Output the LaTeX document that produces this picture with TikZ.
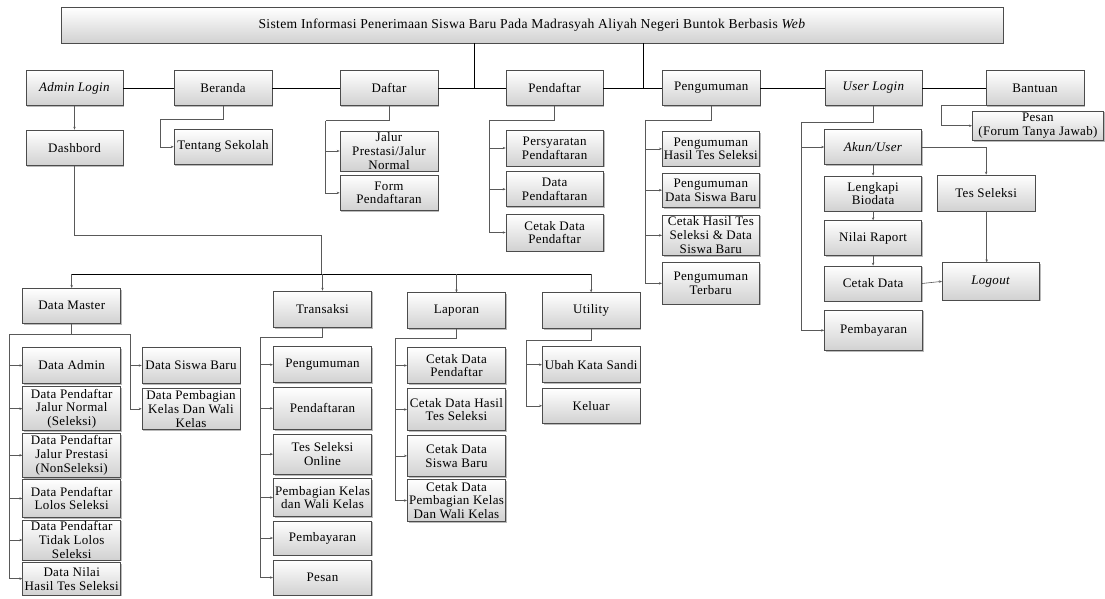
\documentclass[tikz,border=0pt]{standalone}
\usepackage{fontspec}
\setmainfont[LetterSpace=2.5]{Liberation Serif}
\usetikzlibrary{shadows,arrows.meta}
\tikzset{
  box/.style={draw=black!70, line width=0.6pt, top color=white, bottom color=black!18,
    drop shadow={shadow xshift=1.2pt, shadow yshift=-1.2pt, fill=black!45, opacity=0.6},
    align=center, inner sep=0.5pt, font=\fontsize{13}{13.8}\selectfont},
  titlebox/.style={box, font=\fontsize{13.6}{14}\selectfont},
  mainline/.style={draw=black, line width=0.8pt},
  conn/.style={draw=black!65, line width=0.6pt},
  arr/.style={conn, -{Stealth[length=3pt,width=2.4pt]}}
}
\newcommand\mybox[7][]{\node[box,#1,minimum width={#5-#3},minimum height={#6-#4}] (#2) at ({(#3+#5)/2},{(#4+#6)/2}) {#7};}
\begin{document}
\begin{tikzpicture}[x=1pt,y=-1pt]
\useasboundingbox (0,0) rectangle (1105,599);
% title
\mybox[titlebox]{title}{61}{7.5}{1003}{43}{Sistem Informasi Penerimaan Siswa Baru Pada Madrasyah Aliyah Negeri Buntok Berbasis \textit{Web}}
% level 1
\mybox{adminlogin}{26}{70.5}{123}{105.5}{\textit{Admin Login}}
\mybox{beranda}{174}{70.5}{272}{105.5}{Beranda}
\mybox{daftar}{340}{70.5}{438}{105.5}{Daftar}
\mybox{pendaftar}{506}{70.5}{603}{105.5}{Pendaftar}
\mybox{pengumuman}{662.5}{70.5}{760}{105.5}{Pengumuman}
\mybox{userlogin}{825}{70.5}{922}{105.5}{\textit{User Login}}
\mybox{bantuan}{986}{70.5}{1084}{105.5}{Bantuan}
% level 2
\mybox{dashbord}{26}{130}{123}{165.7}{Dashbord}
\mybox{tentang}{174}{129.3}{272}{164.3}{Tentang Sekolah}
\mybox{jalur}{340}{131}{438}{171}{Jalur\\Prestasi/Jalur\\Normal}
\mybox{form}{340}{175}{438}{210.7}{Form\\Pendaftaran}
\mybox{persyaratan}{506}{130}{603.3}{166}{Persyaratan\\Pendaftaran}
\mybox{datapend}{506}{171.7}{603.3}{206.7}{Data\\Pendaftaran}
\mybox{cetakpend}{506}{214}{603.3}{251}{Cetak Data\\Pendaftar}
\mybox{phts}{662.3}{131.7}{759.3}{166}{Pengumuman\\Hasil Tes Seleksi}
\mybox{pdsb}{662.3}{173}{759.3}{207.3}{Pengumuman\\Data Siswa Baru}
\mybox{chts}{662.3}{215}{759.3}{255.7}{Cetak Hasil Tes\\Seleksi \& Data\\Siswa Baru}
\mybox{pterbaru}{662.3}{262.7}{759.3}{304}{Pengumuman\\Terbaru}
\mybox{akun}{824.5}{129.5}{921.7}{164.5}{\textit{Akun/User}}
\mybox{lengkapi}{824.5}{176}{921.7}{211}{Lengkapi\\Biodata}
\mybox{nilai}{824.5}{220.7}{921.7}{255.7}{Nilai Raport}
\mybox{cetakdata}{824.5}{266}{921.7}{301}{Cetak Data}
\mybox{pembayaranu}{824.5}{310}{922.7}{350.7}{Pembayaran}
\mybox{tesseleksi}{937.3}{175}{1035}{211}{Tes Seleksi}
\mybox{logout}{942.3}{262.7}{1039.3}{300}{\textit{Logout}}
\mybox{pesan}{972.3}{111}{1103.5}{140.5}{Pesan\\(Forum Tanya Jawab)}
% lower tree
\mybox{datamaster}{22.7}{288.3}{120.7}{323.3}{Data Master}
\mybox{transaksi}{273.3}{291}{371.7}{327.3}{Transaksi}
\mybox{laporan}{407.3}{292.7}{505.7}{328.3}{Laporan}
\mybox{utility}{542.3}{292.7}{640}{328.3}{Utility}
\mybox{dadmin}{22.7}{347.7}{120.7}{383.3}{Data Admin}
\mybox{dpjn}{22.7}{386.7}{120.7}{430.7}{Data Pendaftar\\Jalur Normal\\(Seleksi)}
\mybox{dpjp}{22.7}{433.3}{120.7}{477.3}{Data Pendaftar\\Jalur Prestasi\\(NonSeleksi)}
\mybox{dpls}{22.7}{479.3}{120.7}{517.7}{Data Pendaftar\\Lolos Seleksi}
\mybox{dptls}{22.7}{520}{120.7}{560}{Data Pendaftar\\Tidak Lolos\\Seleksi}
\mybox{dnhts}{22.7}{562.3}{120.7}{595}{Data Nilai\\Hasil Tes Seleksi}
\mybox{dsb}{142}{347.7}{240}{383.3}{Data Siswa Baru}
\mybox{dpkwk}{142}{388.3}{240}{429.3}{Data Pembagian\\Kelas Dan Wali\\Kelas}
\mybox{tpeng}{273.3}{346.7}{371.7}{382.7}{Pengumuman}
\mybox{tpend}{273.3}{387.3}{371.7}{429.3}{Pendaftaran}
\mybox{ttes}{273.3}{434}{371.7}{474.3}{Tes Seleksi\\Online}
\mybox{tpemb}{273.3}{478.3}{371.7}{516.7}{Pembagian Kelas\\dan Wali Kelas}
\mybox{tbayar}{273.3}{521}{371.7}{555}{Pembayaran}
\mybox{tpesan}{273.3}{560}{371.7}{595}{Pesan}
\mybox{lcdp}{407.3}{347.7}{505.7}{383.3}{Cetak Data\\Pendaftar}
\mybox{lcdh}{407.3}{388.3}{505.7}{430.7}{Cetak Data Hasil\\Tes Seleksi}
\mybox{lcds}{407.3}{435}{505.7}{476.7}{Cetak Data\\Siswa Baru}
\mybox{lcdk}{407.3}{479.3}{505.7}{521.7}{Cetak Data\\Pembagian Kelas\\Dan Wali Kelas}
\mybox{uubah}{542.3}{346.7}{640}{382.7}{Ubah Kata Sandi}
\mybox{ukeluar}{542.3}{388.3}{640}{423.3}{Keluar}

% level-1 connectors
\draw[mainline] (474.3,0 |- title.south) -- (474.3,0 |- pendaftar.west);
\draw[mainline] (643.3,0 |- title.south) -- (643.3,0 |- pendaftar.east);
\draw[mainline] (adminlogin.east) -- (beranda.west);
\draw[mainline] (beranda.east) -- (daftar.west);
\draw[mainline] (daftar.east) -- (pendaftar.west);
\draw[mainline] (pendaftar.east) -- (pengumuman.west);
\draw[mainline] (pengumuman.east) -- (userlogin.west);
\draw[mainline] (userlogin.east) -- (bantuan.west);

% admin
\draw[arr] (adminlogin.south) -- (dashbord.north);
% beranda
\draw[conn] (beranda.south) |- (160.7,119.3);
\draw[arr] (160.7,119.3) |- (tentang.west);
% daftar
\draw[conn] (daftar.south) |- (325.7,120.7);
\draw[arr] (325.7,120.7) |- (form.west);
\draw[arr] (325.7,0 |- jalur.west) -- (jalur.west);
% pendaftar
\draw[conn] (pendaftar.south) |- (489.3,120);
\draw[arr] (489.3,120) |- (cetakpend.west);
\draw[arr] (489.3,0 |- persyaratan.west) -- (persyaratan.west);
\draw[arr] (489.3,0 |- datapend.west) -- (datapend.west);
% pengumuman
\draw[conn] (pengumuman.south) |- (645.7,120);
\draw[arr] (645.7,120) |- (pterbaru.west);
\draw[arr] (645.7,0 |- phts.west) -- (phts.west);
\draw[arr] (645.7,0 |- pdsb.west) -- (pdsb.west);
\draw[arr] (645.7,0 |- chts.west) -- (chts.west);
% user login
\draw[conn] (userlogin.south) |- (801.7,122);
\draw[arr] (801.7,122) |- (pembayaranu.west);
\draw[arr] (801.7,0 |- akun.west) -- (akun.west);
\draw[arr] (akun.east) -| (tesseleksi.north);
\draw[arr] (akun.south) -- (lengkapi.north);
\draw[arr] (lengkapi.south) -- (nilai.north);
\draw[arr] (nilai.south) -- (cetakdata.north);
\draw[arr] (cetakdata.east) -- (logout.west);
\draw[arr] (986.7,0 |- tesseleksi.south) -- (986.7,0 |- logout.north);
% bantuan
\draw[conn] (bantuan.south west) -- (941,0 |- bantuan.south west);
\draw[arr] (941,0 |- bantuan.south west) |- (pesan.west);

% dashbord tree
\draw[conn] (dashbord.south) |- (321.7,235) -- (321.7,274);
\draw[mainline] (datamaster.north |- 0,274) -- (591,274);
\draw[arr] (datamaster.north |- 0,274) -- (datamaster.north);
\draw[arr] (transaksi.north |- 0,274) -- (transaksi.north);
\draw[arr] (laporan.north |- 0,274) -- (laporan.north);
\draw[arr] (utility.north |- 0,274) -- (utility.north);

% data master
\draw[conn] (datamaster.south) -- (datamaster.south |- 0,334);
\draw[conn] (9.3,334) -- (130,334);
\draw[arr] (9.3,334) |- (dnhts.west);
\draw[arr] (9.3,0 |- dadmin.west) -- (dadmin.west);
\draw[arr] (9.3,0 |- dpjn.west) -- (dpjn.west);
\draw[arr] (9.3,0 |- dpjp.west) -- (dpjp.west);
\draw[arr] (9.3,0 |- dpls.west) -- (dpls.west);
\draw[arr] (9.3,0 |- dptls.west) -- (dptls.west);
\draw[arr] (130,334) |- (dpkwk.west);
\draw[arr] (130,0 |- dsb.west) -- (dsb.west);
% transaksi
\draw[conn] (transaksi.south) |- (260.7,337.3);
\draw[arr] (260.7,337.3) |- (tpesan.west);
\draw[arr] (260.7,0 |- tpeng.west) -- (tpeng.west);
\draw[arr] (260.7,0 |- tpend.west) -- (tpend.west);
\draw[arr] (260.7,0 |- ttes.west) -- (ttes.west);
\draw[arr] (260.7,0 |- tpemb.west) -- (tpemb.west);
\draw[arr] (260.7,0 |- tbayar.west) -- (tbayar.west);
% laporan
\draw[conn] (laporan.south) |- (395.7,338.3);
\draw[arr] (395.7,338.3) |- (lcdk.west);
\draw[arr] (395.7,0 |- lcdp.west) -- (lcdp.west);
\draw[arr] (395.7,0 |- lcdh.west) -- (lcdh.west);
\draw[arr] (395.7,0 |- lcds.west) -- (lcds.west);
% utility
\draw[conn] (utility.south) |- (526.7,340);
\draw[arr] (526.7,340) |- (ukeluar.west);
\draw[arr] (526.7,0 |- uubah.west) -- (uubah.west);
\end{tikzpicture}
\end{document}
